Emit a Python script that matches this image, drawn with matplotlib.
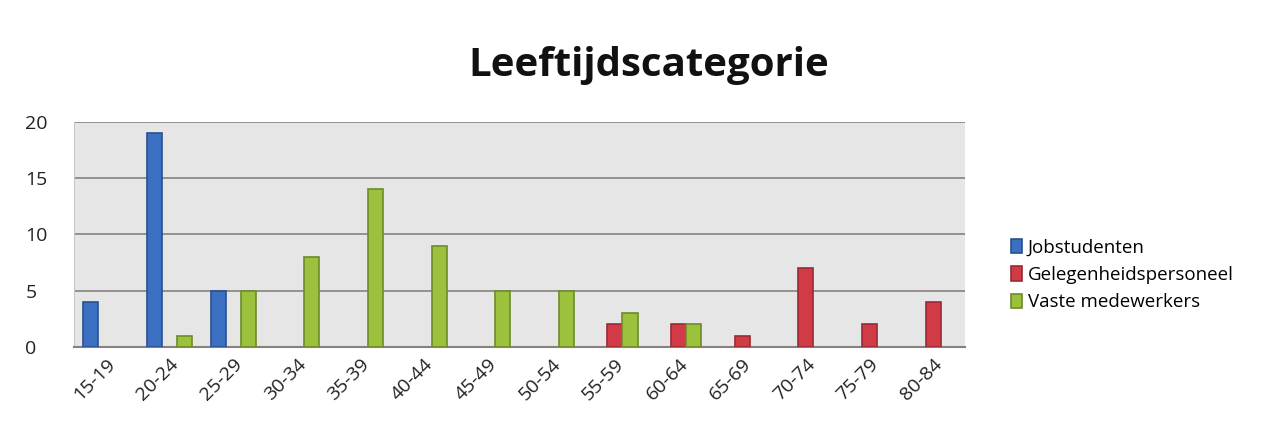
import numpy as np
import matplotlib.pyplot as plt

# ----- data
categories = ['15-19', '20-24', '25-29', '30-34', '35-39', '40-44', '45-49',
              '50-54', '55-59', '60-64', '65-69', '70-74', '75-79', '80-84']
jobstudenten = [4, 19, 5, 0, 0, 0, 0, 0, 0, 0, 0, 0, 0, 0]
gelegenheid = [0, 0, 0, 0, 0, 0, 0, 0, 2, 2, 1, 7, 2, 4]
vaste = [0, 1, 5, 8, 14, 9, 5, 5, 3, 2, 0, 0, 0, 0]
series_names = ['Jobstudenten', 'Gelegenheidspersoneel', 'Vaste medewerkers']

plt.rcParams['font.family'] = ['Open Sans', 'DejaVu Sans']

fig = plt.figure(figsize=(12.84, 4.46), dpi=100)
ax = fig.add_axes([0.0576, 0.222, 0.694, 0.5045])

x = np.arange(len(categories))
w = 0.236
styles = [('#3b6fc2', '#2a4f8f'), ('#d13b45', '#9a2a32'), ('#9cc23d', '#6f8a2a')]
for k, vals in enumerate([jobstudenten, gelegenheid, vaste]):
    vals = np.array(vals)
    m = vals > 0   # skip empty bars so no edge line is drawn at 0
    ax.bar(x[m] + (k - 1) * w, vals[m], w, color=styles[k][0],
           edgecolor=styles[k][1], lw=1.2, label=series_names[k], zorder=3)

ax.set_facecolor('#e6e6e6')
ax.set_xlim(-0.5, len(categories) - 0.5)
ax.set_ylim(0, 20)
ax.set_yticks([0, 5, 10, 15, 20])
ax.yaxis.grid(True, color='#8a7f7f', lw=1.2, zorder=1)
for s in ['top', 'right']:
    ax.spines[s].set_visible(False)
ax.spines['left'].set_color('#c8c8c8')
ax.spines['bottom'].set_color('#8a7f7f')
ax.spines['bottom'].set_linewidth(1.5)
ax.tick_params(axis='y', length=0, labelsize=14, pad=35, colors='#222222')
ax.tick_params(axis='x', length=0, labelsize=14, pad=6, colors='#222222')
ax.set_xticks(x)
ax.set_xticklabels(categories, rotation=45, ha='right', va='top',
                   rotation_mode='anchor')
for lab in ax.get_yticklabels():
    lab.set_horizontalalignment('left')

fig.text(0.505, 0.853, 'Leeftijdscategorie', ha='center', va='center',
         fontsize=29, fontweight='bold', color='#111111')

ax.legend(loc='center left', bbox_to_anchor=(1.043, 0.32), frameon=False,
          fontsize=13.5, handlelength=0.6, handleheight=0.8, handletextpad=0.3,
          labelspacing=0.5, borderaxespad=0)

plt.savefig('out.png', dpi=100)
